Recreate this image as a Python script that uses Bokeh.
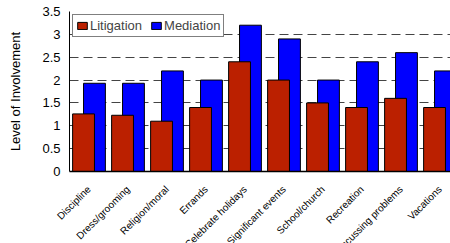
import math
from bokeh.plotting import figure
from bokeh.layouts import column
from bokeh.models import ColumnDataSource, Range1d, FixedTicker, Legend, LegendItem
from bokeh.transform import dodge
from bokeh.core.properties import value
from bokeh.embed import file_html
from bokeh.resources import INLINE

categories = ["Discipline", "Dress/grooming", "Religion/moral", "Errands", "Celebrate holidays",
              "Significant events", "School/church", "Recreation", "Discussing problems", "Vacations"]
litigation = [1.26, 1.23, 1.10, 1.40, 2.40, 2.00, 1.50, 1.40, 1.60, 1.40]
mediation = [1.93, 1.93, 2.20, 2.00, 3.20, 2.90, 2.00, 2.40, 2.60, 2.20]
y_ticks = [0, 0.5, 1, 1.5, 2, 2.5, 3, 3.5]
y_tick_labels = ["0", "0.5", "1", "1.5", "2", "2.5", "3", "3.5"]

src = ColumnDataSource(dict(
    x=[i + 0.5 for i in range(len(categories))],
    cat=categories, lit=litigation, med=mediation))

FONT = "Liberation Sans"
W = 450
LEFT = 69
CAT_PX = 39.0
X_END = (W - LEFT) / CAT_PX
H1 = 180

p = figure(width=W, height=H1, output_backend="svg", toolbar_location=None,
           x_range=Range1d(0, X_END), y_range=Range1d(0, 3.5),
           min_border_left=LEFT, min_border_right=0, min_border_top=11, min_border_bottom=9)
p.outline_line_color = None

r_med = p.vbar(x=dodge("x", 0.14, range=p.x_range), top="med", width=0.56, source=src,
               fill_color="#0000FF", line_color="black", line_width=1)
r_lit = p.vbar(x=dodge("x", -0.14, range=p.x_range), top="lit", width=0.56, source=src,
               fill_color="#BB2000", line_color="black", line_width=1)

p.xaxis.ticker = FixedTicker(ticks=[])
p.xaxis.major_tick_line_color = None
p.xaxis.minor_tick_line_color = None
p.xaxis.major_label_standoff = 0
p.xaxis.major_label_text_font_size = "0px"
p.xaxis.axis_line_color = "black"
p.xaxis.axis_line_width = 1.5
p.xgrid.visible = False

p.yaxis.ticker = FixedTicker(ticks=y_ticks)
p.yaxis.major_label_overrides = {t: l for t, l in zip(y_ticks, y_tick_labels)}
p.yaxis.major_label_text_font = FONT
p.yaxis.major_label_text_font_size = "13px"
p.yaxis.major_label_text_color = "black"
p.yaxis.major_tick_out = 0
p.yaxis.major_tick_in = 0
p.yaxis.minor_tick_line_color = None
p.yaxis.major_label_standoff = 9
p.yaxis.axis_line_color = "black"
p.yaxis.axis_label = "Level of Involvement"
p.yaxis.axis_label_text_font = FONT
p.yaxis.axis_label_text_font_size = "13px"
p.yaxis.axis_label_text_font_style = "normal"
p.yaxis.axis_label_text_color = "black"
p.yaxis.axis_label_standoff = 16

p.ygrid.ticker = FixedTicker(ticks=y_ticks)
p.ygrid.grid_line_color = "#444444"
p.ygrid.grid_line_dash = "9 5"
p.ygrid.grid_line_width = 1

legend = Legend(items=[LegendItem(label="Litigation", renderers=[r_lit]),
                       LegendItem(label="Mediation", renderers=[r_med])],
                location="top_left", orientation="horizontal",
                label_text_font=FONT, label_text_font_size="13px",
                glyph_width=12, glyph_height=9, label_height=13, label_standoff=2,
                spacing=8, padding=3, margin=3,
                border_line_color="black", border_line_width=1,
                background_fill_alpha=1.0)
p.add_layout(legend)

# category labels strip (same horizontal scale, frame covers the whole strip)
H2 = 243 - H1
p2 = figure(width=W, height=H2, output_backend="svg", toolbar_location=None,
            x_range=Range1d(-LEFT / CAT_PX, X_END), y_range=Range1d(-H2, 0),
            min_border=0)
p2.frame_align = False
p2.axis.visible = False
p2.grid.visible = False
p2.outline_line_color = None
p2.text(x="x", y=-7, text="cat", source=src, angle=math.pi / 4,
        text_align="right", text_baseline="middle",
        text_font=value(FONT), text_font_size="10px", text_color="black")

layout = column(p, p2, spacing=0)
open("out.html", "w").write(file_html(layout, INLINE))
